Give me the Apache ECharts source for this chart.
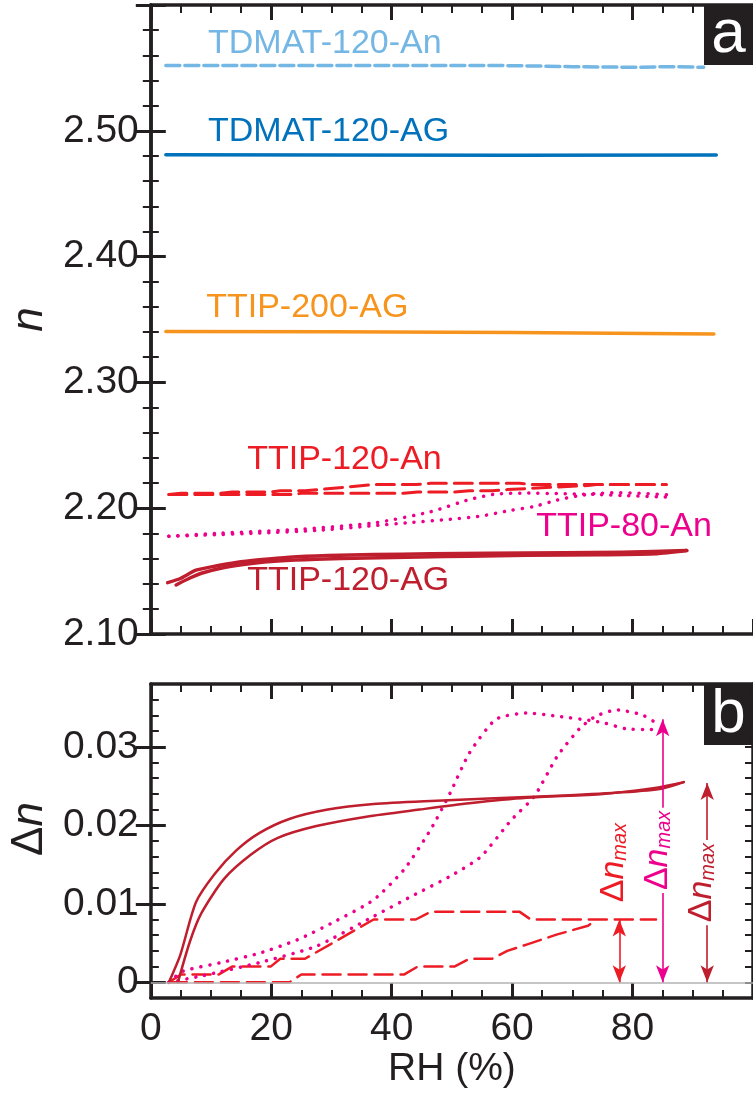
<!DOCTYPE html>
<html>
<head>
<meta charset="utf-8">
<script src="https://cdn.jsdelivr.net/npm/echarts@6/dist/echarts.min.js"></script>
<style>
  html, body { margin: 0; padding: 0; background: #fff; }
  #chart { width: 753px; height: 1099px; }
</style>
</head>
<body>
<div id="chart"></div>
<script>
// ---- panel a: refractive index n vs RH ----
const tdmatAnX = [2.5, 20, 40, 60, 70, 80, 86, 91.8];
const tdmatAnN = [2.552, 2.552, 2.552, 2.5518, 2.551, 2.5505, 2.551, 2.5505];
const tdmatAgX = [2.5, 30, 60, 93.9];
const tdmatAgN = [2.481, 2.4808, 2.4806, 2.4808];
const ttip200X = [2.5, 30, 60, 93.5];
const ttip200N = [2.3404, 2.3402, 2.3396, 2.3385];

const ttip120AnUpX = [3, 5, 11.3, 13.5, 19.9, 21.5, 25.6, 37, 44, 46.5, 61.2, 63.1, 85.6];
const ttip120AnUpN = [2.2108, 2.2118, 2.2118, 2.2128, 2.2128, 2.2138, 2.2138, 2.2188, 2.2188, 2.2198, 2.2198, 2.2188, 2.2188];
const ttip120AnLoX = [3, 23, 25, 42, 44.3, 50.4, 52.9, 56.7, 59.2, 62.4, 67.5, 72.6, 74, 85.6];
const ttip120AnLoN = [2.2108, 2.2108, 2.2118, 2.2118, 2.2128, 2.2128, 2.2138, 2.2138, 2.2148, 2.2156, 2.2169, 2.218, 2.2188, 2.2188];

const ttip80Ad1X = [3, 11.6, 24.3, 37, 46.5, 52.9, 57.3, 62.4, 67.5, 73.4, 78.8, 86.4];
const ttip80Ad1N = [2.1777, 2.1802, 2.1831, 2.1882, 2.1972, 2.2069, 2.2112, 2.212, 2.2116, 2.211, 2.21, 2.2087];
const ttip80Ad2X = [3, 8.4, 18, 27.5, 37, 43.4, 49.7, 54.8, 59.9, 63.7, 67.5, 71.3, 73.9, 77.3, 81.5, 86.4];
const ttip80Ad2N = [2.1777, 2.1785, 2.1802, 2.1823, 2.1861, 2.1887, 2.1912, 2.1937, 2.1984, 2.2014, 2.2065, 2.2101, 2.2116, 2.2124, 2.2118, 2.2105];

const ttip120Ag1X = [2.8, 4.9, 7.5, 10.6, 14.2, 18, 23, 29.4, 37, 46.5, 56.1, 68.8, 78.3, 89];
const ttip120Ag1N = [2.1408, 2.1441, 2.1507, 2.1539, 2.1569, 2.159, 2.1611, 2.1624, 2.1632, 2.1637, 2.1641, 2.1646, 2.165, 2.1663];
const ttip120Ag2X = [4.2, 6.5, 8.4, 12.2, 16.7, 21.1, 27.5, 35.8, 44.6, 52.9, 62.4, 75.1, 84, 89];
const ttip120Ag2N = [2.139, 2.1445, 2.1483, 2.1529, 2.1561, 2.158, 2.1594, 2.1604, 2.1612, 2.1619, 2.1625, 2.163, 2.1638, 2.1663];

// ---- panel b: delta n vs RH ----
const dnAg1X = [3.0, 4.9, 7.5, 10.6, 14.2, 18.0, 23.0, 29.4, 37.0, 46.5, 56.1, 68.8, 78.3, 85.0, 88.5];
const dnAg1Y = [0, 0.0035, 0.0102, 0.0138, 0.0168, 0.019, 0.0208, 0.022, 0.0227, 0.0231, 0.0234, 0.0238, 0.0242, 0.0247, 0.0255];
const dnAg2X = [4.5, 6.5, 8.4, 12.2, 16.7, 21.1, 27.5, 35.8, 44.6, 52.9, 62.4, 75.1, 84.0, 88.5];
const dnAg2Y = [0, 0.0052, 0.0088, 0.0132, 0.0163, 0.0184, 0.0199, 0.0211, 0.022, 0.0228, 0.0235, 0.024, 0.0248, 0.0255];

const dn80_1X = [3.0, 5.3, 11.6, 18.0, 24.3, 30.7, 37.0, 42.1, 46.5, 49.7, 52.9, 57.3, 62.4, 67.5, 73.4, 75.5, 78.8, 82.1, 84.0];
const dn80_1Y = [0, 0.0014, 0.0025, 0.0037, 0.0054, 0.0078, 0.0105, 0.0144, 0.0195, 0.0241, 0.0292, 0.0335, 0.0343, 0.0339, 0.0333, 0.033, 0.0323, 0.0322, 0.0322];
const dn80_2X = [3.0, 8.4, 18.0, 27.5, 37.0, 43.4, 49.7, 54.8, 59.9, 63.7, 67.5, 71.3, 73.9, 77.3, 81.5, 84.0];
const dn80_2Y = [0, 0.0008, 0.0025, 0.0046, 0.0084, 0.011, 0.0135, 0.016, 0.0207, 0.0237, 0.0288, 0.0324, 0.0339, 0.0347, 0.0341, 0.033];

const dnAnUpX = [3, 5, 11.3, 13.5, 19.9, 21.5, 25.6, 37.0, 44.0, 46.5, 61.2, 63.1, 83.9];
const dnAnUpY = [0, 0.001, 0.001, 0.002, 0.002, 0.003, 0.003, 0.008, 0.008, 0.009, 0.009, 0.008, 0.008];
const dnAnLoX = [3.0, 23.0, 25.0, 42.1, 44.3, 50.4, 52.9, 56.7, 59.2, 62.4, 67.5, 72.6, 74.0];
const dnAnLoY = [0, 0, 0.001, 0.001, 0.002, 0.002, 0.003, 0.003, 0.004, 0.0048, 0.0061, 0.0072, 0.008];

// delta n max arrows: [x, top]
const arrowAn = [77.8, 0.008];
const arrow80 = [85.0, 0.0335];
const arrowAg = [92.4, 0.0254];

const xTicks = [0, 20, 40, 60, 80];
const nTicks = [2.10, 2.20, 2.30, 2.40, 2.50];
const dnTicks = [0, 0.01, 0.02, 0.03];

const INK = '#231f20';
const FONT = 'Liberation Sans';
const C = {
  lightBlue: '#74b6e4',
  blue: '#0072bc',
  orange: '#f7941d',
  red: '#ed1c24',
  magenta: '#ec008c',
  darkRed: '#be1e2d'
};

function pairs(xs, ys) {
  return xs.map((x, i) => [x, ys[i]]);
}

function xAxisDef(grid, pos, labels) {
  return {
    type: 'value', gridIndex: grid, position: pos, min: 0, max: 100, interval: 20,
    axisLine: { show: true, onZero: false, lineStyle: { color: INK, width: 3.5 } },
    axisTick: { show: true, inside: true, length: 15, lineStyle: { color: INK, width: 3 } },
    minorTick: { show: true, splitNumber: 4, length: 8, lineStyle: { color: INK, width: 2 } },
    axisLabel: {
      show: labels, margin: 12, color: INK, fontFamily: FONT, fontSize: 39,
      customValues: xTicks
    },
    splitLine: { show: false }
  };
}

function lineSeries(xi, yi, xs, ys, color, width, type, extra) {
  return Object.assign({
    type: 'line', xAxisIndex: xi, yAxisIndex: yi,
    data: pairs(xs, ys), showSymbol: false, symbol: 'none', silent: true,
    lineStyle: { color: color, width: width, type: type || 'solid', cap: 'round', join: 'round' }
  }, extra || {});
}

function arrowLine(a, color) {
  return [{ coord: [a[0], 0] }, { coord: [a[0], a[1]], lineStyle: { color: color, width: 1.6, type: 'solid' } }];
}

const chart = echarts.init(document.getElementById('chart'), null, { renderer: 'canvas' });

const gridA = { left: 146.7, top: 5, width: 613.3, height: 629 };
const gridB = { left: 146.7, top: 684, width: 613.3, height: 314 };

const dashRed = [18, 8];
const dots = [0.1, 9];

const option = {
  animation: false,
  backgroundColor: '#fff',
  grid: [gridA, gridB],
  xAxis: [
    xAxisDef(0, 'bottom', false),
    xAxisDef(0, 'top', false),
    Object.assign(xAxisDef(1, 'bottom', true), {
      name: 'RH (%)', nameLocation: 'middle', nameGap: 47,
      nameTextStyle: { color: INK, fontFamily: FONT, fontSize: 39 }
    }),
    xAxisDef(1, 'top', false)
  ],
  yAxis: [
    {
      type: 'value', gridIndex: 0, position: 'left', min: 2.1, max: 2.6, interval: 0.1,
      axisLine: { show: true, lineStyle: { color: INK, width: 3.5 } },
      axisTick: { inside: true, length: 15, lineStyle: { color: INK, width: 3 } },
      minorTick: { show: true, splitNumber: 5, length: 8, lineStyle: { color: INK, width: 2 } },
      axisLabel: {
        color: INK, fontFamily: FONT, fontSize: 39, margin: 12,
        customValues: nTicks, formatter: v => v.toFixed(2)
      },
      splitLine: { show: false },
      name: 'n', nameLocation: 'middle', nameGap: 92,
      nameTextStyle: { color: INK, fontFamily: FONT, fontSize: 44, fontStyle: 'italic' }
    },
    {
      type: 'value', gridIndex: 0, position: 'right', min: 2.1, max: 2.6, interval: 0.1,
      axisLine: { show: true, lineStyle: { color: INK, width: 3.5 } },
      axisTick: { inside: true, length: 15, lineStyle: { color: INK, width: 3 } },
      minorTick: { show: true, splitNumber: 5, length: 8, lineStyle: { color: INK, width: 2 } },
      axisLabel: { show: false },
      splitLine: { show: false }
    },
    // panel b: minor ticks every 0.002 (min is a multiple of it)
    {
      type: 'value', gridIndex: 1, position: 'left', min: -0.002, max: 0.038, interval: 0.002,
      axisLine: { show: true, onZero: false, lineStyle: { color: INK, width: 3.5 } },
      axisTick: { inside: true, length: 8, lineStyle: { color: INK, width: 2 } },
      axisLabel: { show: false },
      splitLine: { show: false }
    },
    {
      type: 'value', gridIndex: 1, position: 'left', min: -0.002, max: 0.038,
      axisLine: { show: false },
      axisTick: { inside: true, length: 15, customValues: dnTicks, lineStyle: { color: INK, width: 3 } },
      axisLabel: {
        color: INK, fontFamily: FONT, fontSize: 39, margin: 12,
        customValues: dnTicks, formatter: v => (v === 0 ? '0' : v.toFixed(2))
      },
      splitLine: { show: false },
      name: '{d|Δ}{i|n}', nameLocation: 'middle', nameGap: 92,
      nameTextStyle: {
        color: INK, fontFamily: FONT, fontSize: 44, padding: [0, 0, 0, 24],
        rich: {
          d: { fontFamily: FONT, fontSize: 44, color: INK },
          i: { fontFamily: FONT, fontSize: 44, fontStyle: 'italic', color: INK }
        }
      }
    },
    {
      type: 'value', gridIndex: 1, position: 'right', min: -0.002, max: 0.038, interval: 0.002,
      axisLine: { show: true, onZero: false, lineStyle: { color: INK, width: 3.5 } },
      axisTick: { inside: true, length: 8, lineStyle: { color: INK, width: 2 } },
      axisLabel: { show: false },
      splitLine: { show: false }
    },
    {
      type: 'value', gridIndex: 1, position: 'right', min: -0.002, max: 0.038,
      axisLine: { show: false },
      axisTick: { inside: true, length: 15, customValues: dnTicks, lineStyle: { color: INK, width: 3 } },
      axisLabel: { show: false },
      splitLine: { show: false }
    }
  ],
  series: [
    // panel a
    lineSeries(0, 0, tdmatAnX, tdmatAnN, C.lightBlue, 3.5, [14, 5]),
    lineSeries(0, 0, tdmatAgX, tdmatAgN, C.blue, 3.5),
    lineSeries(0, 0, ttip200X, ttip200N, C.orange, 3.5),
    lineSeries(0, 0, ttip120AnUpX, ttip120AnUpN, C.red, 3, dashRed),
    lineSeries(0, 0, ttip120AnLoX, ttip120AnLoN, C.red, 3, dashRed),
    lineSeries(0, 0, ttip80Ad1X, ttip80Ad1N, C.magenta, 3.5, dots, { smooth: 0.2 }),
    lineSeries(0, 0, ttip80Ad2X, ttip80Ad2N, C.magenta, 3.5, dots, { smooth: 0.2 }),
    lineSeries(0, 0, ttip120Ag1X, ttip120Ag1N, C.darkRed, 3.5, 'solid', { smooth: 0.2 }),
    lineSeries(0, 0, ttip120Ag2X, ttip120Ag2N, C.darkRed, 3.5, 'solid', { smooth: 0.2 }),
    // panel b
    lineSeries(2, 2, dnAnUpX, dnAnUpY, C.red, 2.5, dashRed, {
      markLine: {
        silent: true, symbol: 'none', animation: false,
        label: { show: false },
        lineStyle: { color: '#b3b3b3', width: 1.5, type: 'solid' },
        data: [{ yAxis: 0 }]
      },
      z: 3
    }),
    lineSeries(2, 2, dnAnLoX, dnAnLoY, C.red, 2.5, dashRed, { z: 3 }),
    lineSeries(2, 2, dn80_1X, dn80_1Y, C.magenta, 3.5, dots, { z: 3, smooth: 0.2 }),
    lineSeries(2, 2, dn80_2X, dn80_2Y, C.magenta, 3.5, dots, { z: 3, smooth: 0.2 }),
    lineSeries(2, 2, dnAg1X, dnAg1Y, C.darkRed, 2.5, 'solid', { z: 3, smooth: 0.25 }),
    lineSeries(2, 2, dnAg2X, dnAg2Y, C.darkRed, 2.5, 'solid', { z: 3, smooth: 0.25 }),
    // delta n max arrows
    {
      type: 'line', xAxisIndex: 2, yAxisIndex: 2, data: [], silent: true,
      markLine: {
        silent: true, animation: false, symbol: ['arrow', 'arrow'], symbolSize: [10, 17],
        label: { show: false },
        data: [
          arrowLine(arrowAn, C.red),
          arrowLine(arrow80, C.magenta),
          arrowLine(arrowAg, C.darkRed)
        ]
      }
    }
  ]
};

chart.setOption(option);

// annotations placed from data coordinates
function px(grid, x, y) {
  return chart.convertToPixel({ gridIndex: grid }, [x, y]);
}

function curveLabel(text, color, x, y) {
  const p = px(0, x, y);
  return {
    type: 'text', x: p[0], y: p[1], z: 50, silent: true,
    style: { text: text, fill: color, fontFamily: FONT, fontSize: 34, align: 'left', verticalAlign: 'middle' }
  };
}

function dnMaxLabel(color, x, y) {
  const p = px(1, x, y);
  return {
    type: 'text', x: p[0], y: p[1], rotation: Math.PI / 2, z: 50, silent: true,
    style: {
      text: '{d|Δ}{n|n}{s|max}', fill: color, align: 'center', verticalAlign: 'middle',
      backgroundColor: '#fff', padding: [2, 3, 2, 3],
      rich: {
        d: { fontFamily: FONT, fontSize: 34, fill: color, color: color, verticalAlign: 'bottom' },
        n: { fontFamily: FONT, fontSize: 34, fontStyle: 'italic', fill: color, color: color, verticalAlign: 'bottom' },
        s: { fontFamily: FONT, fontSize: 20, fontStyle: 'italic', fill: color, color: color, lineHeight: 14, verticalAlign: 'bottom' }
      }
    }
  };
}

function panelTag(grid, letter, xMax, yMax, h) {
  const p = px(grid, xMax, yMax);
  return {
    type: 'group', z: 60, silent: true,
    children: [
      { type: 'rect', shape: { x: p[0] - 49, y: p[1], width: 49, height: h }, style: { fill: INK } },
      {
        type: 'text', x: p[0] - 24.5, y: p[1] + h / 2,
        style: { text: letter, fill: '#fff', fontFamily: FONT, fontSize: 62, align: 'center', verticalAlign: 'middle' }
      }
    ]
  };
}

chart.setOption({
  graphic: [
    curveLabel('TDMAT-120-An', C.lightBlue, 9.5, 2.5696),
    curveLabel('TDMAT-120-AG', C.blue, 9.5, 2.4990),
    curveLabel('TTIP-200-AG', C.orange, 9.2, 2.3595),
    curveLabel('TTIP-120-An', C.red, 16.0, 2.2384),
    curveLabel('TTIP-80-An', C.magenta, 64.0, 2.1856),
    curveLabel('TTIP-120-AG', C.darkRed, 16.0, 2.1422),
    dnMaxLabel(C.red, 76.8, 0.01525),
    dnMaxLabel(C.magenta, 84.2, 0.0168),
    dnMaxLabel(C.darkRed, 91.4, 0.0127),
    panelTag(0, 'a', 100, 2.6, 60),
    panelTag(1, 'b', 100, 0.038, 61)
  ]
});
</script>
</body>
</html>
